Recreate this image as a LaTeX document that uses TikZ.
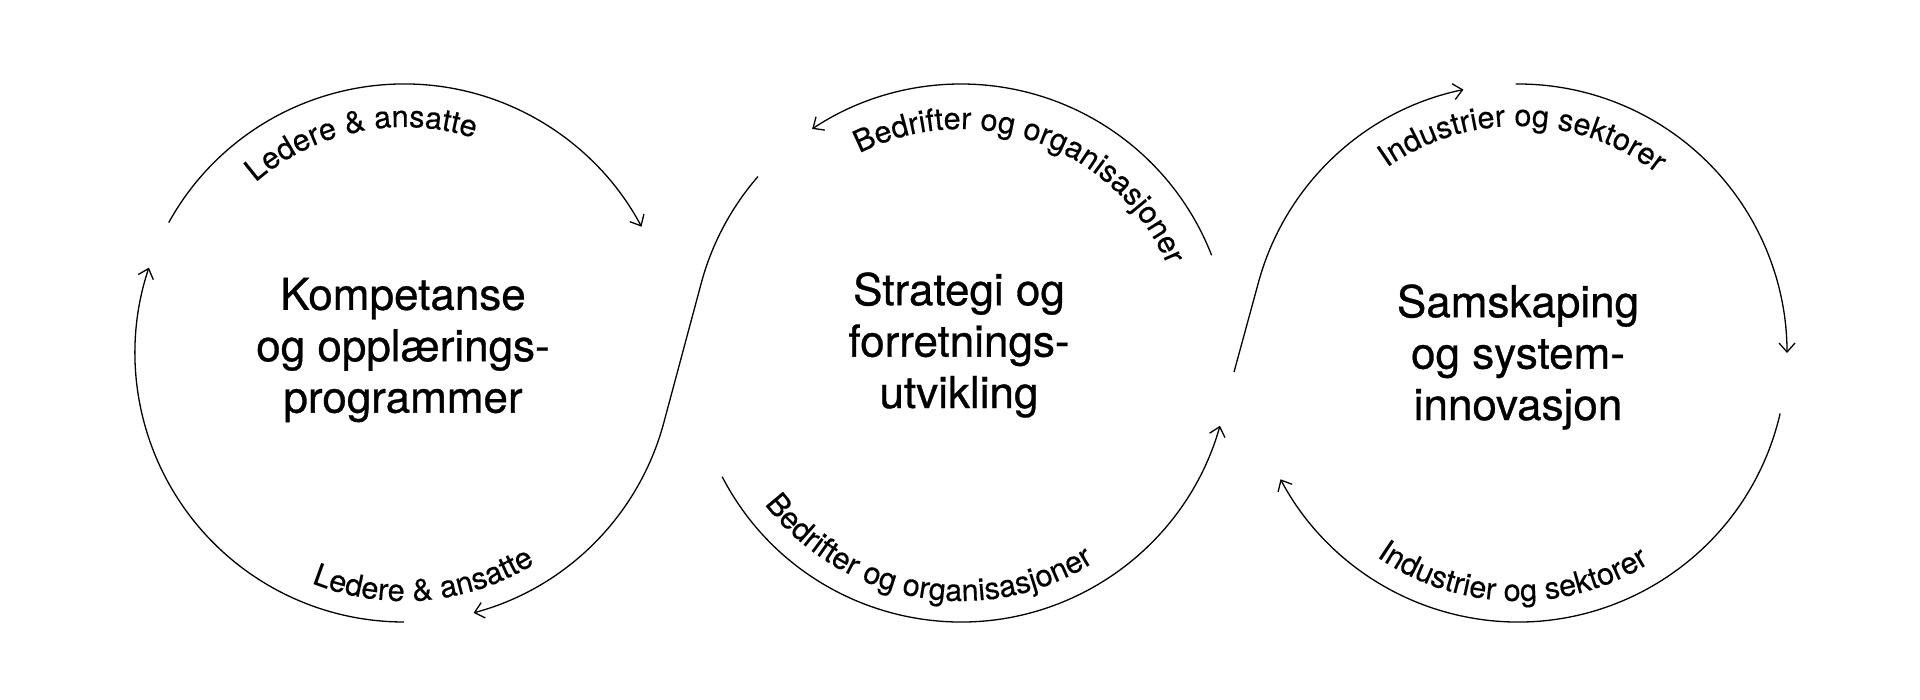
\documentclass[tikz,border=0pt]{standalone}
\usepackage{fontspec}
\setmainfont{TeX Gyre Heros}
\newfontfamily\titlefamily[FakeBold=0.7]{TeX Gyre Heros}
\newfontfamily\lblfamily[FakeBold=0.3]{TeX Gyre Heros}
\usetikzlibrary{arrows.meta}
\newcommand\lblsize{15.3}
\newcommand\lblfont{\lblfamily\fontsize{15.3}{18}\selectfont}
\def\spcchar{~}
% #1 centre coordinate, #2 radius (picture units), #3 mid angle, #4 sign (1 = top, clockwise; -1 = bottom), #5 macro holding char/width list (widths in 1/1000 em)
\newcommand\arctext[5]{%
  \gdef\arcTotal{0}%
  \foreach \ch/\w in #5{\pgfmathsetmacro\tmpsum{\arcTotal+\w}\xdef\arcTotal{\tmpsum}}%
  \gdef\arcAccum{0}%
  \foreach \ch/\w in #5{%
    \pgfmathsetmacro\ang{#3 - (#4)*((\arcAccum + 0.5*\w - 0.5*\arcTotal)/1000*\lblsize/(0.5*#2))*57.29578}%
    \pgfmathsetmacro\rot{\ang - (#4)*90}%
    \ifx\ch\spcchar\else
      \node[rotate=\rot, anchor=base, inner sep=0pt, font=\lblfont] at ([shift=(\ang:#2)]#1) {\ch};%
    \fi
    \pgfmathsetmacro\tmpsum{\arcAccum+\w}\xdef\arcAccum{\tmpsum}%
  }%
}
\newcommand\ledere{L/556,e/556,d/556,e/556,r/333,e/556,~/278,\&/667,~/278,a/556,n/556,s/500,a/556,t/278,t/278,e/556}
\newcommand\bedrifter{B/667,e/556,d/556,r/333,i/222,f/278,t/278,e/556,r/333,~/278,o/556,g/556,~/278,o/556,r/333,g/556,a/556,n/556,i/222,s/500,a/556,s/500,j/222,o/556,n/556,e/556,r/333}
\newcommand\industrier{I/278,n/556,d/556,u/556,s/500,t/278,r/333,i/222,e/556,r/333,~/278,o/556,g/556,~/278,s/500,e/556,k/500,t/278,o/556,r/333,e/556,r/333}
\begin{document}
\begin{tikzpicture}[x=0.5pt,y=0.5pt,
  loopline/.style={line width=0.65pt, -{Straight Barb[length=4.5pt,width=8pt,line width=0.65pt]}},
  titletext/.style={align=center, font=\titlefamily\fontsize{22}{25.7}\selectfont}
]
\useasboundingbox (0,0) rectangle (1920,700);
\coordinate (L) at (404,347);
\coordinate (M) at (961,347);
\coordinate (R) at (1518,347);
\coordinate (s2) at (1234,328);

% titles
\node[titletext] (t1) at (403,350) {Kompetanse\\og opplærings-\\programmer};
\node[titletext] (t2) at (959,355) {Strategi og\\forretnings-\\utvikling};
\node[titletext] (t3) at (1518,343) {Samskaping\\og system-\\innovasjon};

% left circle
\draw[loopline] ([shift=(151:269)]L) arc[start angle=151, end angle=28, radius=269];
\draw[loopline] ([shift=(270:269)]L) arc[start angle=270, end angle=161.5, radius=269];
\draw[loopline] ([shift=(139:269)]M) arc[start angle=139, end angle=165.2, radius=269]
   -- ([shift=(-14.8:269)]L) arc[start angle=-14.8, end angle=-75, radius=269];

% middle circle
\draw[loopline] ([shift=(21.3:269)]M) arc[start angle=21.3, end angle=123.6, radius=269];
\draw[loopline] ([shift=(207.4:269)]M) arc[start angle=207.4, end angle=344.3, radius=269];

% right circle
\draw[loopline] (s2) -- ([shift=(165.2:269)]R) arc[start angle=165.2, end angle=101.7, radius=269];
\draw[loopline] ([shift=(90.5:269)]R) arc[start angle=90.5, end angle=0, radius=269];
\draw[loopline] ([shift=(-13:269)]R) arc[start angle=-13, end angle=-152, radius=269];

% labels
\arctext{L}{226}{101.5}{1}{\ledere}
\arctext{L}{248}{-85}{-1}{\ledere}
\arctext{M}{224}{70}{1}{\bedrifter}
\arctext{M}{248}{260}{-1}{\bedrifter}
\arctext{R}{227}{88.8}{1}{\industrier}
\arctext{R}{248}{268.6}{-1}{\industrier}
\end{tikzpicture}
\end{document}
